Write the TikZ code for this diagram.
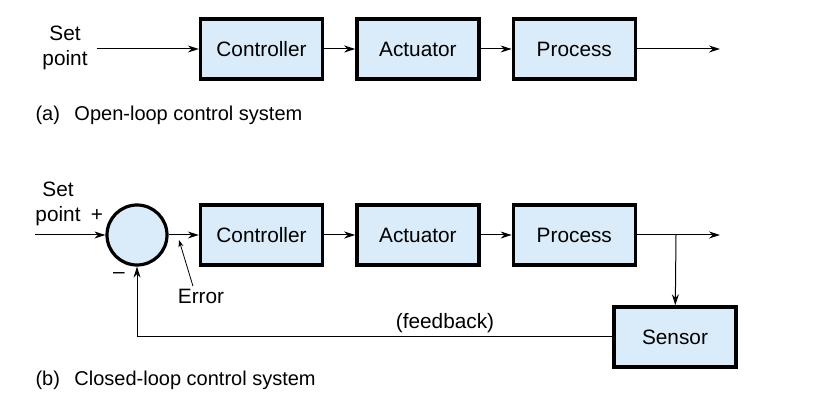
\documentclass[tikz,border=0pt]{standalone}
\usepackage{fontspec}
\setmainfont{Liberation Sans}
\usetikzlibrary{positioning,arrows.meta}

\definecolor{boxfill}{RGB}{218,236,250}

\tikzset{
  block/.style={draw, line width=1.7pt, fill=boxfill, minimum width=61pt, minimum height=30pt, inner sep=0pt},
  sumpt/.style={draw, circle, line width=1.6pt, fill=boxfill, minimum size=30pt, inner sep=0pt},
  txt/.style={inner sep=0pt, align=center},
  caption/.style={inner sep=0pt, anchor=west, font=\fontsize{10}{12}\selectfont},
  >={Stealth[length=5.5pt,width=3.5pt]}
}

\begin{document}
\begin{tikzpicture}[x=0.5pt, y=-0.5pt, node distance=15.5pt, font=\fontsize{10.4}{12.4}\selectfont, line width=0.5pt]
	\useasboundingbox (0,0) rectangle (814,406);

	% (a) open loop
	\node[txt] (sp_a) at (65,48) {Set\\point};
	\node[block] (ctrl_a) at (261.5,49) {Controller};
	\node[block, right = of ctrl_a] (act_a) {Actuator};
	\node[block, right = of act_a] (proc_a) {Process};
	\coordinate (out_a) at (720,49);
	\node[caption] (cap_a) at (35,115) {(a)\hspace{0.45em} Open-loop control system};

	\draw[->] (97,49) -- (ctrl_a);
	\draw[->] (ctrl_a) -- (act_a);
	\draw[->] (act_a) -- (proc_a);
	\draw[->] (proc_a) -- (out_a);

	% (b) closed loop
	\node[txt] (sp_b) at (58,204) {Set\\point};
	\node[txt] (plus) at (97,215) {+};
	\node[sumpt] (sum) at (137,235) {};
	\node[txt] (minus) at (119,276) {--};
	\node[block] (ctrl_b) at (261.5,235) {Controller};
	\node[block, right = of ctrl_b] (act_b) {Actuator};
	\node[block, right = of act_b] (proc_b) {Process};
	\node[block] (sens) at (675,337) {Sensor};
	\coordinate (in_b) at (35,235);
	\coordinate (out_b) at (720,235);
	\coordinate (tap) at (676,235);
	\node[txt] (err) at (201,296) {Error};
	\coordinate (errpt) at (179,240);
	\node[txt] (fb) at (445,323) {(feedback)};
	\node[caption] (cap_b) at (35,380) {(b)\hspace{0.45em} Closed-loop control system};

	\draw[->] (in_b) -- (sum);
	\draw[->] (sum) -- (ctrl_b);
	\draw[->] (ctrl_b) -- (act_b);
	\draw[->] (act_b) -- (proc_b);
	\draw[->] (proc_b) -- (out_b);
	\draw[->] (tap) -- (sens);
	\draw[->] (sens.west) -| (sum.south);
	\draw[->, line width=0.4pt, >={Stealth[length=3.5pt,width=2.5pt]}] ([xshift=-4pt,yshift=1pt]err.north) -- (errpt);
\end{tikzpicture}
\end{document}
